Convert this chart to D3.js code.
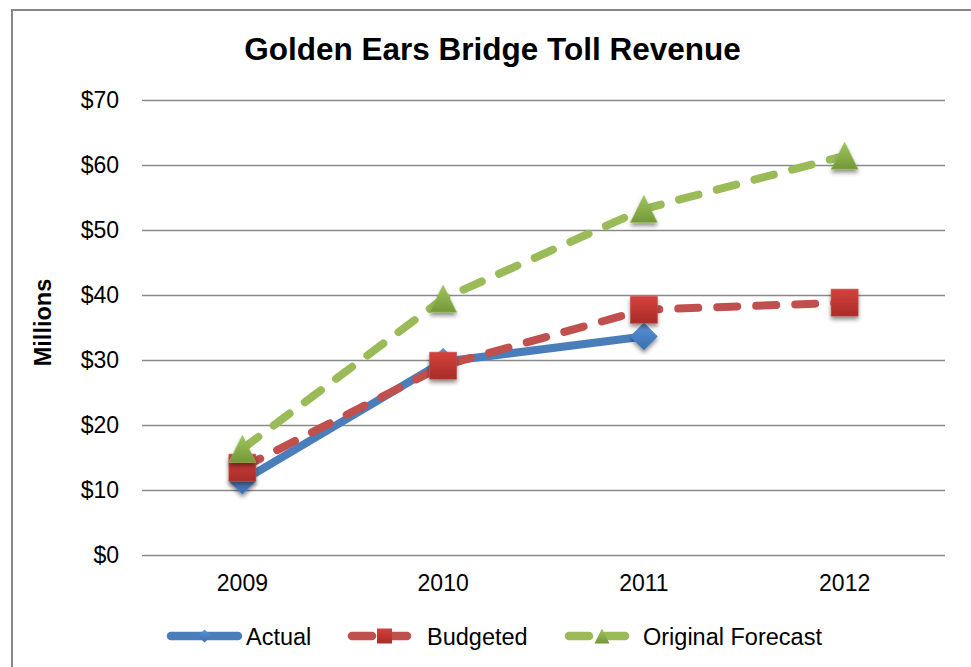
<!DOCTYPE html>
<html>
<head>
<meta charset="utf-8">
<script src="https://cdn.jsdelivr.net/npm/d3@7"></script>
<style>
  html, body { margin: 0; padding: 0; background: #fff; }
  svg { display: block; font-family: "Liberation Sans", Arial, sans-serif; }
</style>
</head>
<body>
<svg id="chart" width="971" height="667"></svg>
<script>
const years = ["2009", "2010", "2011", "2012"];
const actual = [11.5, 29.8, 33.7, null];
const budgeted = [13.5, 29.2, 37.8, 38.9];
const forecast = [16.4, 39.5, 53.3, 61.5];
const yTicks = [0, 10, 20, 30, 40, 50, 60, 70];
const seriesNames = ["Actual", "Budgeted", "Original Forecast"];

const svg = d3.select("#chart");
const plot = { left: 142, right: 945, top: 100.5, bottom: 555.5 };

// chart border
svg.append("rect").attr("x", 12).attr("y", 10).attr("width", 980).attr("height", 680)
  .attr("fill", "#fff").attr("stroke", "#878787").attr("stroke-width", 2);

const defs = svg.append("defs");
const f = defs.append("filter").attr("id", "shadow").attr("x", "-50%").attr("y", "-50%").attr("width", "200%").attr("height", "200%");
f.append("feGaussianBlur").attr("in", "SourceAlpha").attr("stdDeviation", 2.2).attr("result", "b");
f.append("feOffset").attr("in", "b").attr("dx", 0).attr("dy", 3).attr("result", "o");
f.append("feComponentTransfer").attr("in", "o").attr("result", "oa")
  .append("feFuncA").attr("type", "linear").attr("slope", 0.45);
const fm = f.append("feMerge");
fm.append("feMergeNode").attr("in", "oa");
fm.append("feMergeNode").attr("in", "SourceGraphic");

function grad(id, c1, c2) {
  const g = defs.append("linearGradient").attr("id", id).attr("x1", 0).attr("y1", 0).attr("x2", 0).attr("y2", 1);
  g.append("stop").attr("offset", "0%").attr("stop-color", c1);
  g.append("stop").attr("offset", "100%").attr("stop-color", c2);
}
grad("gBlue", "#5b93d6", "#3a6eb0");
grad("gRed", "#d5413c", "#a82c29");
grad("gGreen", "#9fc55a", "#73983a");

const x = d3.scaleBand().domain(years).range([plot.left, plot.right]);
const y = d3.scaleLinear().domain([0, 70]).range([plot.bottom, plot.top]);

// gridlines
svg.append("g").selectAll("line").data(yTicks).join("line")
  .attr("x1", plot.left).attr("x2", plot.right)
  .attr("y1", d => y(d)).attr("y2", d => y(d))
  .attr("stroke", "#8a8a8a").attr("stroke-width", 1.6);

// y axis labels
const yAxis = d3.axisLeft(y).tickValues(yTicks).tickFormat(d => "$" + d).tickSize(0).tickPadding(23);
const ya = svg.append("g").attr("transform", `translate(${plot.left},0)`).call(yAxis);
ya.select(".domain").remove();
ya.selectAll("text").attr("font-size", 23).attr("fill", "#000")
  .attr("font-family", "Liberation Sans, Arial, sans-serif");

// x axis labels
const xAxis = d3.axisBottom(x).tickSize(0).tickPadding(19);
const xa = svg.append("g").attr("transform", `translate(0,${plot.bottom})`).call(xAxis);
xa.select(".domain").remove();
xa.selectAll("text").attr("font-size", 23).attr("fill", "#000")
  .attr("font-family", "Liberation Sans, Arial, sans-serif");

// title
svg.append("text").attr("x", 492.5).attr("y", 60).attr("text-anchor", "middle")
  .attr("font-size", 31.5).attr("font-weight", "bold").text("Golden Ears Bridge Toll Revenue");

// y title
svg.append("text").attr("transform", "translate(51,322.5) rotate(-90)").attr("text-anchor", "middle")
  .attr("font-size", 23.5).attr("font-weight", "bold").text("Millions");

const series = [
  { name: seriesNames[0], values: actual, color: "#4a7ebb", fill: "url(#gBlue)", marker: "diamond", dash: null },
  { name: seriesNames[1], values: budgeted, color: "#c0504d", fill: "url(#gRed)", marker: "square", dash: "20,19" },
  { name: seriesNames[2], values: forecast, color: "#9bbb59", fill: "url(#gGreen)", marker: "triangle", dash: "20,19" }
];

const cx = d => x(d) + x.bandwidth() / 2;

function markerPath(type, s) {
  const h = s / 2;
  if (type === "diamond") return `M0,${-h}L${h},0L0,${h}L${-h},0Z`;
  if (type === "square") return `M${-h},${-h}H${h}V${h}H${-h}Z`;
  return `M0,${-h}L${h},${h}L${-h},${h}Z`;
}

const line = d3.line().defined(d => d.v != null).x(d => cx(d.year)).y(d => y(d.v));

series.forEach(s => {
  const pts = years.map((yr, i) => ({ year: yr, v: s.values[i] }));
  svg.append("path").datum(pts).attr("d", line)
    .attr("fill", "none").attr("stroke", s.color).attr("stroke-width", 8)
    .attr("stroke-linecap", "round").attr("stroke-linejoin", "round")
    .attr("stroke-dasharray", s.dash);
});

series.forEach(s => {
  const pts = years.map((yr, i) => ({ year: yr, v: s.values[i] })).filter(d => d.v != null);
  svg.append("g").selectAll("path").data(pts).join("path")
    .attr("transform", d => `translate(${cx(d.year)},${y(d.v)})`)
    .attr("d", markerPath(s.marker, 27))
    .attr("fill", s.fill).attr("stroke", s.color).attr("stroke-opacity", 0.6).attr("stroke-width", 1)
    .attr("filter", "url(#shadow)");
});

// legend
const legendY = 636;
const legendItems = [
  { x1: 167, x2: 242, tx: 246 },
  { x1: 348, x2: 411, tx: 427 },
  { x1: 565, x2: 629, tx: 643 }
];
series.forEach((s, i) => {
  const L = legendItems[i];
  const g = svg.append("g");
  g.append("line").attr("x1", L.x1 + 4).attr("x2", L.x2 - 4).attr("y1", legendY).attr("y2", legendY)
    .attr("stroke", s.color).attr("stroke-width", 8.5).attr("stroke-linecap", "round")
    .attr("stroke-dasharray", s.dash ? "20,16" : null);
  const mx = (L.x1 + L.x2) / 2 + (i === 0 ? 0 : 5);
  g.append("path").attr("transform", `translate(${mx},${legendY})`)
    .attr("d", markerPath(s.marker, i === 0 ? 13 : 15)).attr("fill", s.fill);
  g.append("text").attr("x", L.tx).attr("y", legendY + 8.5).attr("font-size", 23.5).text(s.name);
});
</script>
</body>
</html>
